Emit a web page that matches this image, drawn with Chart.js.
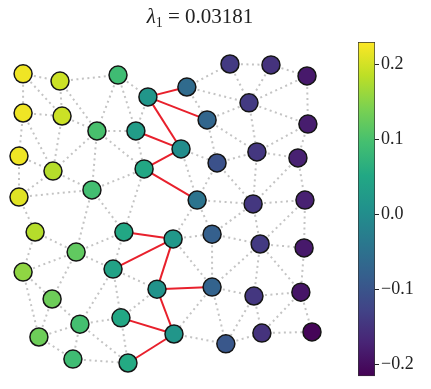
<!DOCTYPE html>
<html>
<head>
<meta charset="utf-8">
<script src="https://cdn.jsdelivr.net/npm/chart.js@4/dist/chart.umd.min.js"></script>
<style>
  body { margin: 0; background: #fff; }
  #wrap { position: relative; width: 431px; height: 389px; }
  #graph { position: absolute; left: 0; top: 0; }
  #cbar { position: absolute; left: 340px; top: 0; }
  #title {
    position: absolute; left: 0; width: 400px; top: 4px; text-align: center;
    font-family: "Liberation Serif", "DejaVu Serif", serif; font-size: 21px; color: #222;
  }
  #title i { font-style: italic; }
  #title sub { font-size: 14px; vertical-align: -4px; line-height: 0; }
</style>
</head>
<body>
<div id="wrap">
  <canvas id="graph" width="431" height="389"></canvas>
  <canvas id="cbar" width="91" height="389"></canvas>
  <div id="title"><i>λ</i><sub>1</sub> = 0.03181</div>
</div>
<script>
// node layout (normalised) and Fiedler vector values
const nodeX = [0.014, 0.140, 0.338, 0.440, 0.573, 0.720, 0.860, 0.983,
  0.014, 0.147, 0.266, 0.399, 0.642, 0.785, 0.000, 0.116, 0.427, 0.553,
  0.676, 0.812, 0.952, 0.986, 0.000, 0.249, 0.608, 0.799, 0.976, 0.055,
  0.358, 0.526, 0.659, 0.823, 0.973, 0.195, 0.321, 0.014, 0.471, 0.659,
  0.802, 0.962, 0.113, 0.348, 0.208, 0.529, 0.706, 0.829, 1.000, 0.068,
  0.184, 0.372];
const nodeY = [0.967, 0.943, 0.963, 0.890, 0.923, 1.000, 0.997, 0.960,
  0.836, 0.826, 0.776, 0.776, 0.813, 0.870, 0.692, 0.642, 0.649, 0.716,
  0.669, 0.706, 0.686, 0.799, 0.555, 0.579, 0.545, 0.532, 0.545, 0.438,
  0.438, 0.415, 0.431, 0.398, 0.385, 0.371, 0.314, 0.304, 0.247, 0.254,
  0.224, 0.237, 0.214, 0.151, 0.130, 0.097, 0.064, 0.100, 0.104, 0.087,
  0.013, 0.000];
const nodeValue = [0.22, 0.195, 0.09, 0.016, -0.06, -0.14, -0.15, -0.185,
  0.22, 0.195, 0.10, 0.03, -0.07, -0.14, 0.22, 0.18, 0.05, 0.0,
  -0.105, -0.145, -0.175, -0.18, 0.21, 0.095, -0.045, -0.145, -0.175, 0.18,
  0.05, 0.02, -0.08, -0.14, -0.185, 0.12, 0.04, 0.155, 0.012, -0.075,
  -0.145, -0.19, 0.13, 0.05, 0.096, 0.017, -0.095, -0.15, -0.21, 0.13,
  0.09, 0.055];

const edges = [
  [0,1],[0,8],[0,9],[1,2],[1,9],[1,10],[2,3],[2,11],[2,10],[8,9],[8,14],
  [8,15],[9,10],[9,15],[10,11],[10,15],[10,16],[3,11],[14,15],[14,22],
  [22,15],[15,23],[10,23],[23,16],[11,16],[16,28],[23,28],[22,27],[22,23],
  [27,33],[23,33],[27,35],[33,35],[33,28],[33,34],[28,34],[35,40],[33,40],
  [40,42],[34,42],[35,47],[40,47],[47,42],[47,48],[42,48],[48,49],[42,41],
  [34,41],[41,49],[34,36],[41,36],[42,49],
  [4,5],[5,6],[6,7],[5,13],[6,13],[7,13],[7,21],[4,12],[4,13],[12,13],
  [13,21],[13,19],[12,19],[12,18],[17,18],[18,19],[19,20],[19,21],[20,21],
  [20,26],[19,25],[18,25],[25,26],[20,25],[18,24],[17,24],[24,29],[24,30],
  [24,25],[30,25],[25,31],[30,31],[31,26],[31,32],[26,32],[29,30],[30,37],
  [29,37],[31,37],[31,38],[32,39],[38,39],[37,38],[31,39],[38,45],[39,45],
  [39,46],[45,46],[44,45],[37,44],[38,44],[43,44],[37,43]
];
const cutEdges = [
  [3,4],[3,12],[3,17],[11,17],[16,17],[16,24],[28,29],[34,29],[29,36],
  [36,37],[36,43],[41,43],[49,43]
];

const cbTicks = [-0.2, -0.1, 0.0, 0.1, 0.2];
const vMin = -0.2156, vMax = 0.23;

const viridis = ['#440154','#482475','#414487','#355f8d','#2a788e','#21918c',
  '#22a884','#44bf70','#7ad151','#bddf26','#fde725'];

function hex(c) { return [1,3,5].map(i => parseInt(c.substr(i,2),16)); }
function cmap(v) {
  let t = (v - vMin) / (vMax - vMin);
  t = Math.max(0, Math.min(1, t)) * (viridis.length - 1);
  const i = Math.min(Math.floor(t), viridis.length - 2), f = t - i;
  const a = hex(viridis[i]), b = hex(viridis[i+1]);
  const c = a.map((x, k) => Math.round(x + (b[k]-x)*f));
  return `rgb(${c[0]},${c[1]},${c[2]})`;
}

const pt = i => ({x: nodeX[i], y: nodeY[i]});

const datasets = [{
  type: 'scatter',
  data: nodeX.map((_, i) => pt(i)),
  pointRadius: 9,
  pointBackgroundColor: nodeValue.map(cmap),
  pointBorderColor: '#151515',
  pointBorderWidth: 1.5,
  order: 0
}];
cutEdges.forEach(([a, b]) => datasets.push({
  type: 'line', data: [pt(a), pt(b)], borderColor: '#e8202c', borderWidth: 2,
  pointRadius: 0, order: 1
}));
edges.forEach(([a, b]) => datasets.push({
  type: 'line', data: [pt(a), pt(b)], borderColor: '#c4c4c4', borderWidth: 2,
  borderDash: [2, 3.5], pointRadius: 0, order: 2
}));

new Chart(document.getElementById('graph'), {
  type: 'scatter',
  data: { datasets },
  options: {
    responsive: false, animation: false, clip: false,
    layout: { autoPadding: false, padding: { left: 0, right: 91, top: 42, bottom: 4 } },
    plugins: { legend: { display: false }, tooltip: { enabled: false } },
    scales: {
      x: { type: 'linear', min: -0.0648, max: 1.0956, display: false },
      y: { type: 'linear', min: -0.0736, max: 1.0736, display: false }
    }
  }
});

new Chart(document.getElementById('cbar'), {
  type: 'bar',
  data: {
    labels: [''],
    datasets: [{
      data: [[vMin, vMax]],
      backgroundColor: (ctx) => {
        const area = ctx.chart.chartArea;
        if (!area) return '#21918c';
        const g = ctx.chart.ctx.createLinearGradient(0, area.bottom, 0, area.top);
        viridis.forEach((c, i) => g.addColorStop(i / (viridis.length - 1), c));
        return g;
      },
      borderColor: '#333', borderWidth: 1, borderSkipped: false,
      barPercentage: 1, categoryPercentage: 1
    }]
  },
  options: {
    responsive: false, animation: false,
    layout: { autoPadding: false, padding: { left: 18, right: 0, top: 42, bottom: 4 } },
    plugins: { legend: { display: false }, tooltip: { enabled: false } },
    scales: {
      x: { display: false },
      y: {
        position: 'right', min: vMin, max: vMax,
        afterBuildTicks: (s) => { s.ticks = cbTicks.map(v => ({ value: v })); },
        afterFit: (s) => { s.width = 56; },
        border: { display: false },
        grid: { drawOnChartArea: false, drawTicks: true, tickLength: 4, color: '#222' },
        ticks: {
          padding: 2, color: '#222',
          font: { family: '"Liberation Serif", "DejaVu Serif", serif', size: 18 },
          callback: (v) => (v < 0 ? '\u2212' : '') + Math.abs(v).toFixed(1)
        }
      }
    }
  }
});
</script>
</body>
</html>
